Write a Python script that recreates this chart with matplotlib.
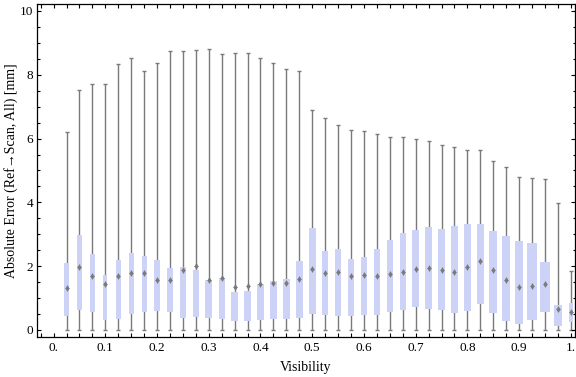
import numpy as np
import matplotlib.pyplot as plt
from matplotlib.ticker import MultipleLocator, FixedLocator

# datos
visibility = np.arange(1, 41) * 0.025
upper = [6.21, 7.52, 7.71, 7.71, 8.33, 8.52, 8.11, 8.38, 8.74, 8.74,
         8.77, 8.80, 8.65, 8.68, 8.68, 8.52, 8.36, 8.18, 8.11, 6.90,
         6.65, 6.43, 6.27, 6.24, 6.15, 6.05, 6.05, 5.99, 5.93, 5.80,
         5.74, 5.65, 5.65, 5.30, 5.11, 4.80, 4.77, 4.74, 3.99, 1.85]
lower = [0.0] * 40
q3 = [2.09, 2.97, 2.38, 1.71, 2.21, 2.41, 2.33, 2.18, 1.93, 1.96,
      1.88, 1.56, 1.63, 1.19, 1.22, 1.44, 1.54, 1.59, 2.16, 3.19,
      2.49, 2.53, 2.24, 2.28, 2.53, 2.81, 3.03, 3.13, 3.22, 3.16,
      3.26, 3.32, 3.32, 3.09, 2.94, 2.78, 2.72, 2.14, 0.78, 0.84]
q1 = [0.43, 0.64, 0.57, 0.32, 0.35, 0.51, 0.55, 0.60, 0.57, 0.39,
      0.42, 0.39, 0.35, 0.29, 0.29, 0.32, 0.35, 0.35, 0.39, 0.49,
      0.47, 0.45, 0.45, 0.47, 0.47, 0.57, 0.64, 0.73, 0.67, 0.64,
      0.52, 0.61, 0.83, 0.54, 0.27, 0.20, 0.32, 0.57, 0.14, 0.26]
center = [1.33, 1.98, 1.68, 1.43, 1.68, 1.78, 1.78, 1.58, 1.56, 1.88,
          2.00, 1.58, 1.64, 1.35, 1.39, 1.43, 1.48, 1.46, 1.60, 1.91,
          1.80, 1.82, 1.70, 1.71, 1.70, 1.77, 1.83, 1.91, 1.95, 1.88,
          1.81, 1.98, 2.15, 1.88, 1.57, 1.34, 1.38, 1.43, 0.65, 0.55]
# ancho de cada caja (unidades de visibilidad)
box_widths = [0.0097, 0.0102, 0.0097, 0.0072, 0.0097, 0.0097, 0.0097, 0.0110, 0.0102, 0.0116,
              0.0126, 0.0130, 0.0122, 0.0130, 0.0130, 0.0135, 0.0135, 0.0135, 0.0141, 0.0130,
              0.0122, 0.0130, 0.0122, 0.0122, 0.0122, 0.0116, 0.0122, 0.0122, 0.0135, 0.0130,
              0.0141, 0.0141, 0.0141, 0.0155, 0.0155, 0.0155, 0.0207, 0.0193, 0.0155, 0.0077]
xtick_vals = [0.0, 0.1, 0.2, 0.3, 0.4, 0.5, 0.6, 0.7, 0.8, 0.9, 1.0]
xtick_labels = ["0.", "0.1", "0.2", "0.3", "0.4", "0.5", "0.6", "0.7", "0.8", "0.9", "1."]

plt.rcParams['font.family'] = ['Liberation Serif', 'DejaVu Serif']

fig = plt.figure(figsize=(5.76, 3.77), dpi=100)
ax = fig.add_axes([0.0637, 0.1069, 0.9351, 0.8817])

gris = "#7a7a7a"
ax.vlines(visibility, lower, upper, color=gris, lw=1.0, zorder=1)
ax.plot(visibility, upper, ls="none", marker="_", ms=3.2, mew=1.0, color=gris, zorder=1)
ax.plot(visibility, lower, ls="none", marker="_", ms=3.2, mew=1.0, color=gris, zorder=1)
ax.bar(visibility, np.array(q3) - np.array(q1), bottom=q1, width=box_widths,
       color="#cdd3f6", edgecolor="none", zorder=2)
ax.plot(visibility, center, ls="none", marker="d", ms=3.5, color=gris, mec="none", zorder=3)
ax.plot(visibility, center, ls="none", marker="_", ms=3.0, mew=0.7, color=gris, zorder=3)

ax.set_xlim(-0.0327, 1.0087)
ax.set_ylim(-0.21, 10.21)

ax.xaxis.set_major_locator(FixedLocator(xtick_vals))
ax.set_xticklabels(xtick_labels)
ax.xaxis.set_minor_locator(MultipleLocator(0.025))
ax.yaxis.set_major_locator(MultipleLocator(2))
ax.yaxis.set_minor_locator(MultipleLocator(0.5))

ax.tick_params(which="both", direction="in", top=True, right=True, width=0.8,
               labelsize=9.5, colors="black")
ax.tick_params(axis="x", which="both", length=3.2, pad=4)
ax.tick_params(axis="y", which="major", length=3.2, pad=2.5)
ax.tick_params(axis="y", which="minor", length=1.8)
for s in ax.spines.values():
    s.set_linewidth(0.9)

ax.set_xlabel("Visibility", fontsize=10, labelpad=5)
ax.set_ylabel("Absolute Error (Ref\u2192Scan, All) [mm]", fontsize=10, labelpad=1)

fig.savefig("out.png", dpi=100)
